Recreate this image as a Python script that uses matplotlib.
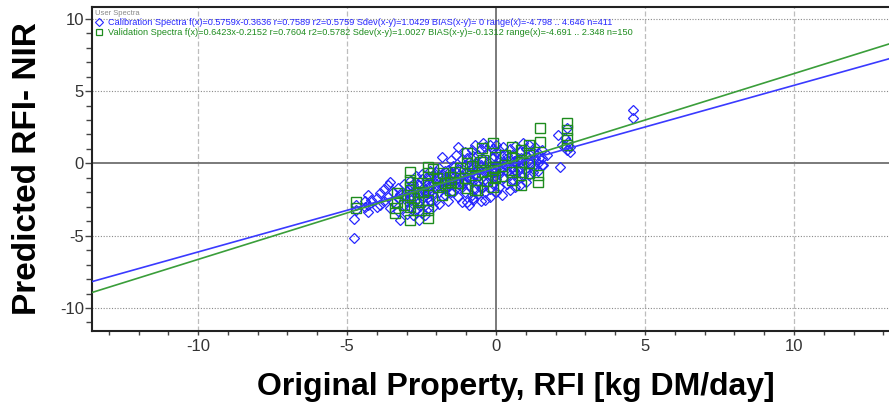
import matplotlib
matplotlib.use("Agg")
import matplotlib.pyplot as plt
from matplotlib.lines import Line2D
from matplotlib.ticker import MultipleLocator

plt.rcParams['font.family'] = ['Liberation Sans', 'DejaVu Sans']
plt.rcParams['axes.unicode_minus'] = False

# calibration spectra (blue diamonds)
cal_cols = [
    (-4.78, [-3.85, -5.15]), (-4.70, [-3.20, -2.90]), (-4.40, [-3.00, -2.60]),
    (-4.30, [-2.87, -3.34, -2.20]), (-4.20, [-2.50]), (-4.00, [-2.40, -3.00]),
    (-3.89, [-2.07, -2.87]), (-3.75, [-1.80, -2.60]), (-3.62, [-1.49, -2.30]),
    (-3.56, [-1.26, -3.10]), (-3.45, [-2.00, -2.70]), (-3.30, [-1.70, -2.40, -3.30]),
    (-3.22, [-3.91, -2.10]), (-3.10, [-2.20, -1.40, -2.90]), (-3.00, [-3.50, -1.90, -2.60]),
    (-2.90, [-1.20, -2.30, -3.00, -1.70]), (-2.80, [-2.00, -2.80, -3.60, -1.40]),
    (-2.70, [-0.90, -1.80, -2.50, -3.20]), (-2.60, [-1.50, -2.10, -3.90, -2.70]),
    (-2.50, [-1.10, -2.40, -3.40, -1.80, -0.70]), (-2.40, [-2.00, -1.30, -2.90, -3.60]),
    (-2.30, [-1.60, -2.30, -0.90, -3.10]), (-2.20, [-1.00, -1.90, -2.60, -0.50]),
    (-2.10, [-1.40, -2.20, -3.00, -0.80]), (-2.00, [-1.70, -0.60, -2.50, -1.10]),
    (-1.90, [-0.30, -1.30, -2.00, -2.80]), (-1.82, [0.46, -0.90, -1.60]),
    (-1.70, [-0.50, -1.20, -2.20, -1.80]), (-1.60, [-0.46, -1.00, -1.50, -2.60]),
    (-1.50, [0.20, -0.80, -1.30, -2.00]), (-1.43, [-1.96, -0.20]),
    (-1.35, [0.60, -0.60, -1.10, -1.70]), (-1.27, [1.15, -0.40, -1.40, -2.30]),
    (-1.15, [0.30, -0.90, -1.60, -2.70]), (-1.05, [0.80, -0.10, -1.20, -2.00]),
    (-0.98, [-2.65, -0.60, 0.40]), (-0.90, [-1.50, 0.10, -1.00, -2.90]),
    (-0.80, [0.90, -0.30, -1.30, -2.20]), (-0.76, [-2.53, -2.41, 0.50]),
    (-0.70, [1.27, -0.80, -1.80, 0.00]), (-0.60, [0.60, -0.40, -1.20, -2.10]),
    (-0.50, [1.00, -0.10, -1.00, -1.70, -2.60]), (-0.43, [1.39, -1.61, 0.30]),
    (-0.37, [1.15, -2.53, -0.60, -2.00]), (-0.31, [-0.46, 0.70, -1.30]),
    (-0.20, [1.27, -0.20, -0.90, -1.80, -2.30]), (-0.10, [0.40, -0.50, -1.40, 1.00]),
    (0.00, [0.80, -0.10, -1.10, -2.00, 1.30]), (0.10, [0.20, -0.70, -1.60, 0.90]),
    (0.19, [-2.18, 0.50, -0.30]), (0.25, [1.15, -1.00, 0.10]),
    (0.36, [0.58, -0.50, -1.40]), (0.47, [-1.84, 1.00, 0.20, -0.80]),
    (0.55, [0.60, -0.30, -1.20]), (0.65, [1.20, 0.00, -0.70, -1.60]),
    (0.75, [0.40, -0.40, -1.10]), (0.81, [-1.49, 0.80, 0.10]),
    (0.92, [1.39, -0.20, -0.90]), (1.00, [0.50, -0.50, -1.30, 1.00]),
    (1.10, [0.20, -0.80, 1.30]), (1.25, [0.81, -0.20, -0.60]),
    (1.31, [-0.23, 0.40, 1.10]), (1.40, [0.00, 0.70, -0.50]),
    (1.53, [0.35, -0.10, 0.90]), (1.59, [-0.11]), (1.70, [0.60]),
    (2.09, [1.96]), (2.15, [-0.23]), (2.20, [1.27]), (2.32, [1.73]),
    (2.37, [2.43, 0.93]), (2.40, [1.50]), (2.48, [0.81, 1.10]),
    (4.61, [3.69, 3.12]),
    # denser core
    (-2.85, [-2.55, -1.55]), (-2.55, [-2.00, -2.95]), (-2.25, [-1.35, -2.05]),
    (-1.95, [-1.55, -0.85]), (-1.75, [-1.00, -1.45]), (-1.55, [-1.15, -0.55]),
    (-1.25, [-0.80, -1.10]), (-1.10, [-0.45, -1.35]), (-0.85, [-0.65, -1.05]),
    (-0.65, [-0.25, -1.45]), (-0.45, [-0.35, -1.25]), (-0.25, [0.15, -0.70]),
    (-0.05, [-0.30, -0.85]), (0.15, [-0.05, -0.45]), (0.35, [0.30, -0.20]),
    (0.60, [0.15, -0.45]), (0.85, [0.35, -0.35]), (1.15, [0.55, -0.05]),
    (1.45, [0.40]), (2.30, [1.20]),
]

# validation spectra (green squares)
val_cols = [
    (-4.70, [-2.65, -3.08]), (-3.39, [-3.10, -3.45]), (-3.33, [-2.07, -2.65]),
    (-3.10, [-2.90]), (-2.90, [-0.57, -1.15, -1.61, -2.18, -3.00, -3.91]),
    (-2.75, [-2.40]), (-2.63, [-1.38, -1.96, -2.65, -3.22]), (-2.45, [-2.00]),
    (-2.30, [-0.23, -0.68, -1.49, -2.53, -3.22, -3.80]), (-2.10, [-0.40]),
    (-1.99, [-1.03]), (-1.94, [-1.61]), (-1.80, [-2.20]), (-1.77, [-0.68]),
    (-1.71, [-1.38]), (-1.54, [-0.92, -1.84]), (-1.50, [-1.30]), (-1.38, [-0.57]),
    (-1.27, [-1.38]), (-1.20, [-0.30]), (-1.04, [-1.03]), (-0.98, [0.70, 0.00, -1.72]),
    (-0.80, [-0.20]), (-0.70, [-0.80, -1.84]), (-0.65, [-1.84]), (-0.54, [0.12]),
    (-0.48, [1.04, -0.57]), (-0.43, [0.23]), (-0.30, [-1.20]),
    (-0.09, [1.39, -0.46, -1.61]), (-0.05, [-0.23, -1.03]), (-0.03, [0.46]),
    (0.20, [-0.90]), (0.30, [0.60]), (0.55, [1.15, 0.35, -0.57, -1.15]),
    (0.83, [0.93, 0.12, -0.57, -1.49]), (1.10, [1.27, 0.70, 0.00, -0.68]),
    (1.42, [-0.80, -1.26]), (1.48, [2.43, 1.50]), (2.37, [2.77, 2.31, 1.73, 1.27]),
]

cal_x = [x for x, ys in cal_cols for y in ys]
cal_y = [y for x, ys in cal_cols for y in ys]
val_x = [x for x, ys in val_cols for y in ys]
val_y = [y for x, ys in val_cols for y in ys]

# regression lines given in the legend
cal_fit = (0.5759, -0.3636)
val_fit = (0.6423, -0.2152)

cal_label = ("Calibration Spectra f(x)=0.5759x-0.3636 r=0.7589 r2=0.5759 "
             "Sdev(x-y)=1.0429 BIAS(x-y)= 0 range(x)=-4.798 .. 4.646 n=411")
val_label = ("Validation Spectra f(x)=0.6423x-0.2152 r=0.7604 r2=0.5782 "
             "Sdev(x-y)=1.0027 BIAS(x-y)=-0.1312 range(x)=-4.691 .. 2.348 n=150")

blue = '#2626ff'
green = '#1e8c1e'

fig = plt.figure(figsize=(8.89, 4.09), dpi=100)
ax = fig.add_axes([0.1032, 0.191, 0.8968, 0.7925])

xmin, xmax = -13.57, 13.19
ax.set_xlim(xmin, xmax)
ax.set_ylim(-11.58, 10.83)

# grid and zero axes
for gx in [-10, -5, 5, 10]:
    ax.axvline(gx, color='#bdbdbd', lw=0.9, ls=(0, (4, 2)), zorder=0)
for gy in [-10, -5, 5, 10]:
    ax.axhline(gy, color='#8a8a8a', lw=0.8, ls=(0, (1, 1.5)), zorder=0)
ax.axvline(0, color='#7a7a7a', lw=1.4, zorder=0)
ax.axhline(0, color='#7a7a7a', lw=1.4, zorder=0)

ax.plot(cal_x, cal_y, 'D', ms=5, mfc='none', mec=blue, mew=0.9, zorder=2)
ax.plot(val_x, val_y, 's', ms=6.5, mfc='none', mec=green, mew=1.0, zorder=3)

ax.plot([xmin, xmax], [cal_fit[0]*xmin + cal_fit[1], cal_fit[0]*xmax + cal_fit[1]],
        color='#3a3aff', lw=1.2, zorder=4)
ax.plot([xmin, xmax], [val_fit[0]*xmin + val_fit[1], val_fit[0]*xmax + val_fit[1]],
        color='#3a9e3a', lw=1.2, zorder=4)

ax.xaxis.set_major_locator(MultipleLocator(5))
ax.xaxis.set_minor_locator(MultipleLocator(1))
ax.yaxis.set_major_locator(MultipleLocator(5))
ax.yaxis.set_minor_locator(MultipleLocator(1))
ax.tick_params(which='both', direction='out', color='#444444', width=1.0,
               labelsize=12, labelcolor='#333333')
ax.tick_params(axis='y', which='major', length=5, pad=0.5)
ax.tick_params(axis='y', which='minor', length=4)
ax.tick_params(axis='x', which='both', length=3, pad=3)
ax.spines['right'].set_visible(False)
for s in ['left', 'bottom', 'top']:
    ax.spines[s].set_linewidth(1.5)
    ax.spines[s].set_color('#222222')

ax.set_xlabel("Original Property, RFI [kg DM/day]", fontsize=23, fontweight='bold')
ax.xaxis.set_label_coords(0.532, -0.126, transform=ax.transAxes)
ax.xaxis.label.set_verticalalignment('top')
ax.set_ylabel("Predicted RFI- NIR", fontsize=24, fontweight='bold', labelpad=12)

handles = [Line2D([], [], marker='D', ls='none', ms=4, mfc='none', mec=blue, mew=0.8),
           Line2D([], [], marker='s', ls='none', ms=5, mfc='none', mec=green, mew=0.9)]
leg = ax.legend(handles, [cal_label, val_label], loc='upper left', bbox_to_anchor=(0.0, 1.0),
                frameon=False, fontsize=6.55, title='User Spectra', title_fontsize=5.5,
                handlelength=0.7, handletextpad=0.7, borderaxespad=0.2, borderpad=0.2,
                labelspacing=0.1, alignment='left')
leg.get_title().set_color('#888888')
leg.get_texts()[0].set_color(blue)
leg.get_texts()[1].set_color(green)

fig.savefig("out.png", dpi=100)
